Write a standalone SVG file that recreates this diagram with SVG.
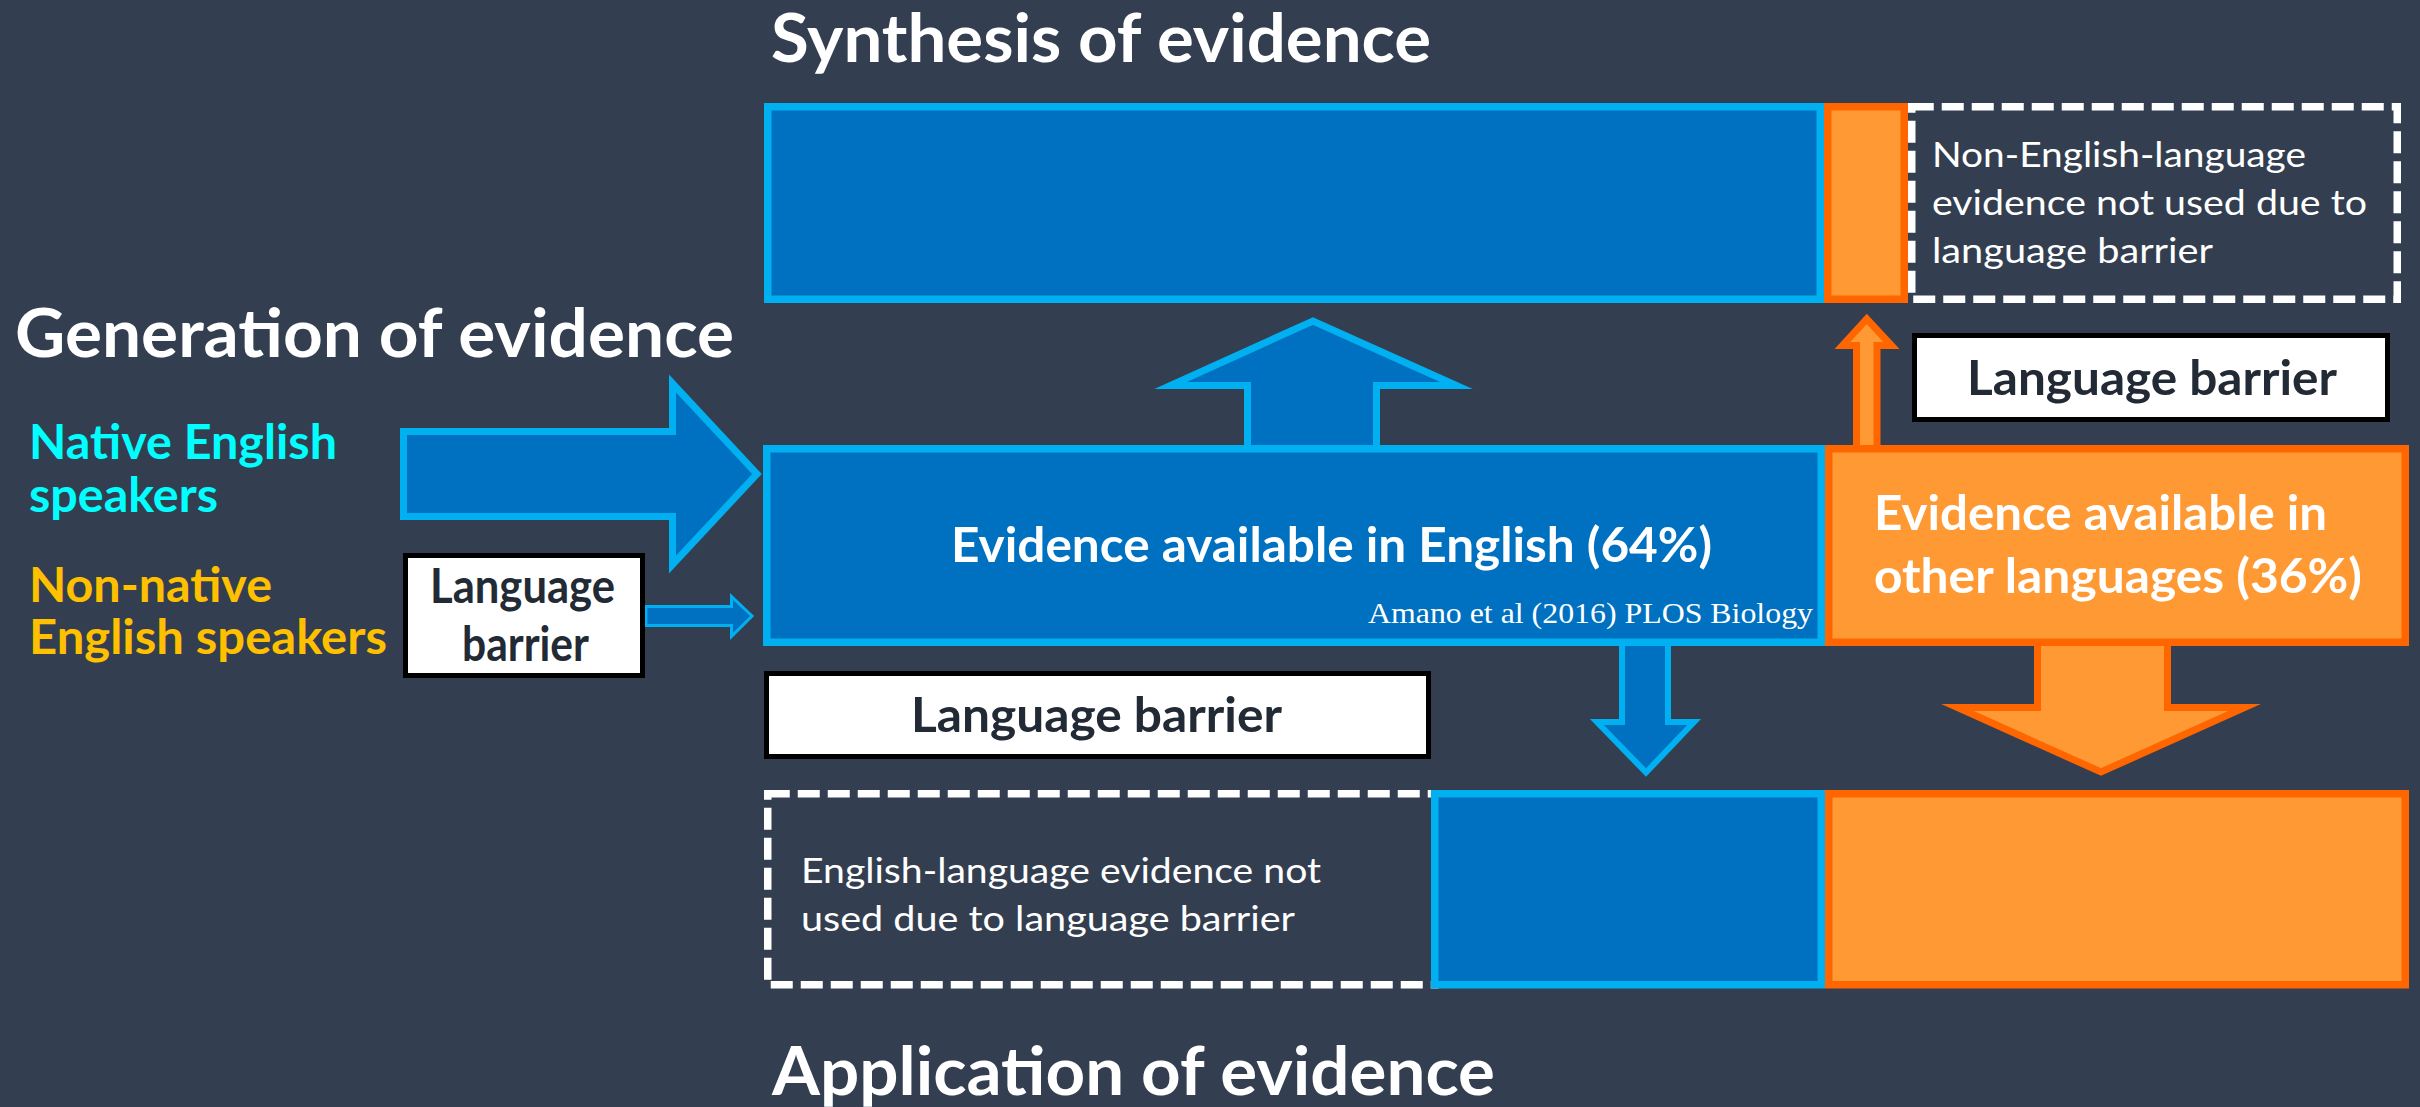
<svg xmlns="http://www.w3.org/2000/svg" width="2420" height="1107" viewBox="0 0 2420 1107">
  <style>
    .bg { fill: #333F50; }
    .en { fill: #0070C0; stroke: #00B0F0; stroke-width: 7.5; }
    .ot { fill: #FF9933; stroke: #FF6600; stroke-width: 7.5; }
    .lost { fill: none; stroke: #FFFFFF; stroke-width: 7.5; stroke-dasharray: 22 8; }
    .tag { fill: #FFFFFF; stroke: #000000; stroke-width: 5; }
    .arrow-en { fill: #0070C0; stroke: #00B0F0; stroke-linejoin: miter; stroke-miterlimit: 10; }
    .arrow-ot { fill: #FF9933; stroke: #FF6600; stroke-linejoin: miter; stroke-miterlimit: 10; }
    text { font-family: Lato, "Open Sans", "Liberation Sans", sans-serif; }
    .head { font-size: 67px; font-weight: bold; fill: #FFFFFF; }
    .big { font-size: 47px; font-weight: bold; fill: #FFFFFF; }
    .native { font-size: 47px; font-weight: bold; fill: #00FFFF; }
    .nonnative { font-size: 47px; font-weight: bold; fill: #FFC000; }
    .dark { font-size: 47px; font-weight: bold; fill: #222A35; }
    .note { font-size: 34px; fill: #FFFFFF; }
    .cite { font-family: "Liberation Serif", "Times New Roman", serif; font-size: 30px; fill: #FFFFFF; }
  </style>

  <rect class="bg" x="0" y="0" width="2420" height="1107"/>

  <!-- headings -->
  <g id="heading-synthesis">
    <text class="head" x="771" y="62" textLength="660" lengthAdjust="spacingAndGlyphs">Synthesis of evidence</text>
  </g>
  <g id="heading-generation">
    <text class="head" x="15" y="357" textLength="719" lengthAdjust="spacingAndGlyphs">Generation of evidence</text>
  </g>
  <g id="heading-application">
    <text class="head" x="772" y="1095" textLength="723" lengthAdjust="spacingAndGlyphs">Application of evidence</text>
  </g>

  <!-- speaker groups -->
  <g id="native-speakers">
    <text class="native" x="29" y="459" textLength="308" lengthAdjust="spacingAndGlyphs">Native English</text>
    <text class="native" x="29" y="512" textLength="189" lengthAdjust="spacingAndGlyphs">speakers</text>
  </g>
  <g id="nonnative-speakers">
    <text class="nonnative" x="29" y="602" textLength="243" lengthAdjust="spacingAndGlyphs">Non-native</text>
    <text class="nonnative" x="29" y="654" textLength="358" lengthAdjust="spacingAndGlyphs">English speakers</text>
  </g>

  <!-- connectors (drawn beneath the bars they touch) -->
  <g id="connectors">
    <!-- native speakers into English evidence -->
    <polygon class="arrow-en" stroke-width="7" points="403.5,431.5 672.5,431.5 672.5,383.5 757,474 672.5,564.5 672.5,516.5 403.5,516.5"/>
    <!-- non-native speakers through barrier -->
    <polygon class="arrow-en" stroke-width="3" points="646,606.5 731.5,606.5 731.5,596.5 752,616 731.5,636.5 731.5,625.5 646,625.5"/>
    <!-- English evidence up to synthesis -->
    <polygon class="arrow-en" stroke-width="7" points="1247.5,452 1247.5,385.5 1170.5,385.5 1313,321 1456.5,385.5 1376.5,385.5 1376.5,452"/>
    <!-- other-language evidence up to synthesis (thin) -->
    <polygon class="arrow-ot" stroke-width="7" points="1856.5,452 1856.5,345.5 1842.5,345.5 1866.8,319 1891.5,345.5 1877,345.5 1877,452"/>
    <!-- English evidence down to application (thin) -->
    <polygon class="arrow-en" stroke-width="6" points="1622,640 1668,640 1668,722 1694,722 1646,772.5 1597,722 1622,722"/>
    <!-- other-language evidence down to application -->
    <polygon class="arrow-ot" stroke-width="7" points="2037.5,640 2167.5,640 2167.5,707.5 2244.5,707.5 2101,772 1957.5,707.5 2037.5,707.5"/>
  </g>

  <!-- synthesis row -->
  <g id="synthesis-unused">
    <rect class="lost" x="1911.75" y="106.75" width="485.5" height="192.5"/>
    <text class="note" x="1932" y="167" textLength="374" lengthAdjust="spacingAndGlyphs">Non-English-language</text>
    <text class="note" x="1932" y="215" textLength="435" lengthAdjust="spacingAndGlyphs">evidence not used due to</text>
    <text class="note" x="1932" y="263" textLength="281" lengthAdjust="spacingAndGlyphs">language barrier</text>
  </g>
  <g id="synthesis-english">
    <rect class="en" x="767.75" y="106.75" width="1052.5" height="192.5"/>
  </g>
  <g id="synthesis-other">
    <rect class="ot" x="1827.75" y="106.75" width="76.5" height="192.5"/>
  </g>

  <!-- available evidence row -->
  <g id="evidence-english">
    <rect class="en" x="766.75" y="448.75" width="1054.5" height="193.5"/>
    <text class="big" x="951" y="562" textLength="761" lengthAdjust="spacingAndGlyphs">Evidence available in English (64%)</text>
    <text class="cite" x="1368" y="623" textLength="445" lengthAdjust="spacingAndGlyphs">Amano et al (2016) PLOS Biology</text>
  </g>
  <g id="evidence-other">
    <rect class="ot" x="1828.75" y="448.75" width="576.5" height="193.5"/>
    <text class="big" x="1874" y="530" textLength="453" lengthAdjust="spacingAndGlyphs">Evidence available in</text>
    <text class="big" x="1874" y="593" textLength="488" lengthAdjust="spacingAndGlyphs">other languages (36%)</text>
  </g>

  <!-- application row -->
  <g id="application-unused">
    <rect class="lost" x="767.75" y="793.75" width="667" height="191"/>
    <text class="note" x="801" y="883" textLength="520" lengthAdjust="spacingAndGlyphs">English-language evidence not</text>
    <text class="note" x="801" y="931" textLength="494" lengthAdjust="spacingAndGlyphs">used due to language barrier</text>
  </g>
  <g id="application-english">
    <rect class="en" x="1434.75" y="793.75" width="386.5" height="191"/>
  </g>
  <g id="application-other">
    <rect class="ot" x="1828.75" y="793.75" width="576.5" height="191"/>
  </g>

  <!-- language barrier tags -->
  <g id="barrier-generation">
    <rect class="tag" x="405.5" y="555.5" width="237" height="120"/>
    <text class="dark" x="430" y="603" font-size="42" textLength="185" lengthAdjust="spacingAndGlyphs">Language</text>
    <text class="dark" x="462" y="661" font-size="42" textLength="127" lengthAdjust="spacingAndGlyphs">barrier</text>
  </g>
  <g id="barrier-synthesis">
    <rect class="tag" x="1914.5" y="335.5" width="473" height="84"/>
    <text class="dark" x="1967" y="395" textLength="370" lengthAdjust="spacingAndGlyphs">Language barrier</text>
  </g>
  <g id="barrier-application">
    <rect class="tag" x="766.5" y="673.5" width="662" height="83"/>
    <text class="dark" x="911" y="732" textLength="371" lengthAdjust="spacingAndGlyphs">Language barrier</text>
  </g>
</svg>
